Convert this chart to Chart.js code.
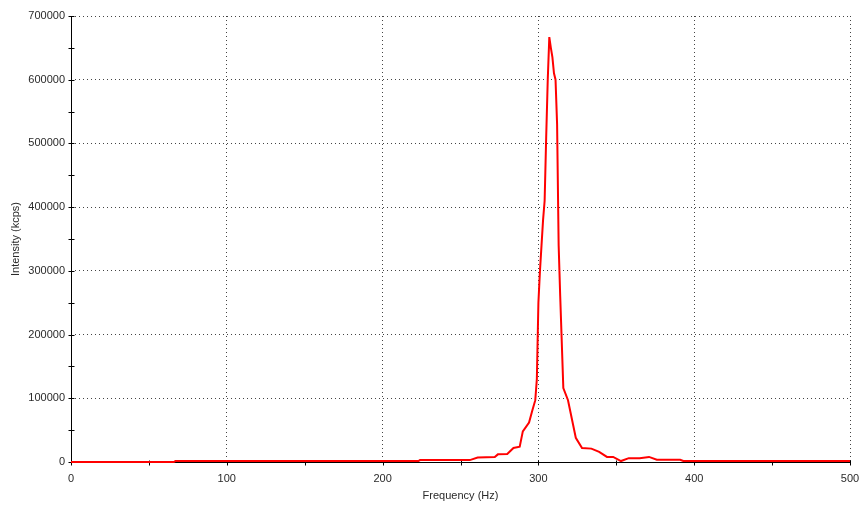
<!DOCTYPE html>
<html>
<head>
<meta charset="utf-8">
<script src="https://cdn.jsdelivr.net/npm/chart.js@4.4.0/dist/chart.umd.min.js"></script>
<style>
    html, body { margin: 0; padding: 0; background: #fff; }
    #wrap { width: 861px; height: 505px; position: relative; }
</style>
</head>
<body>
<div id="wrap"><canvas id="spectrum-chart"></canvas></div>
<script>
// spectrum values
const freqs = [0, 66, 67, 223, 224, 256, 261, 272, 274, 280,
    284, 288, 290, 294, 296, 298, 299, 300, 301, 302,
    303, 304, 305, 306, 307, 308, 309, 310, 311, 312,
    313, 314, 316, 319, 324, 328, 334, 339, 344, 348,
    353, 358, 365, 371, 376, 391, 393, 500];
const intensities = [0, 0, 1500, 1500, 3000, 3000, 7000, 8000, 12000, 12500,
    22000, 24000, 48000, 62000, 80000, 97000, 130000, 250000, 300000, 340000,
    380000, 410000, 510000, 600000, 667000, 650000, 635000, 610000, 600000, 530000,
    340000, 260000, 116000, 97000, 38000, 22000, 21000, 16000, 8000, 8000,
    1500, 6000, 6000, 8000, 3500, 3500, 1500, 1500];
const xRange = [0, 500];
const yRange = [0, 700000];
const xStep = 100, yStep = 100000;
const xLabel = "Frequency (Hz)";
const yLabel = "Intensity (kcps)";

const font = { family: "'Liberation Sans', Arial, sans-serif", size: 11 };
const textColor = "#2a2a2a";

// axis lines with small crossing ticks (major + minor at half steps), under the data line
const axisPlugin = {
    id: "axisTicks",
    beforeDatasetsDraw(chart) {
        const ctx = chart.ctx;
        const xs = chart.scales.x, ys = chart.scales.y;
        const area = chart.chartArea;
        ctx.save();
        ctx.strokeStyle = "#000";
        ctx.lineWidth = 1;
        ctx.beginPath();
        const ax = Math.round(area.left) + 0.5;
        const ay = Math.round(area.bottom) + 0.5;
        ctx.moveTo(ax, area.top);
        ctx.lineTo(ax, ay);
        ctx.lineTo(area.right, ay);
        for (let v = xRange[0]; v <= xRange[1]; v += xStep / 2) {
            let px = Math.round(xs.getPixelForValue(v)) + 0.5;
            ctx.moveTo(px, ay - 2);
            ctx.lineTo(px, ay + 3);
        }
        for (let v = yRange[0]; v <= yRange[1]; v += yStep / 2) {
            let py = Math.round(ys.getPixelForValue(v)) + 0.5;
            ctx.moveTo(ax - 3, py);
            ctx.lineTo(ax + 3, py);
        }
        ctx.stroke();
        ctx.restore();
    }
};

let points = freqs.map((f, i) => ({ x: f, y: intensities[i] }));
let gridColor = (c) => c.tick && c.tick.value === 0 ? "rgba(0,0,0,0)" : "#444";

new Chart(document.getElementById("spectrum-chart"), {
    type: "line",
    data: {
        datasets: [{
            data: points,
            borderColor: "#ff0000",
            borderWidth: 2,
            pointRadius: 0,
            tension: 0,
            fill: false,
            clip: 4
        }]
    },
    options: {
        responsive: true,
        maintainAspectRatio: false,
        animation: false,
        events: [],
        layout: { padding: { top: 16, right: 11, left: 0, bottom: 0 } },
        plugins: { legend: { display: false }, tooltip: { enabled: false } },
        scales: {
            x: {
                type: "linear",
                min: xRange[0],
                max: xRange[1],
                afterFit: (scale) => {
                    scale.height = 43;
                    scale.paddingLeft = 0;
                    scale.paddingRight = 0;
                },
                ticks: { stepSize: xStep, color: textColor, font: font, padding: 10, maxRotation: 0,
                    callback: (v) => String(v) },
                grid: { drawTicks: false, color: gridColor, lineWidth: 1 },
                border: { display: false, dash: [1, 3] },
                title: { display: true, text: xLabel, color: textColor, font: font, padding: { top: 0, bottom: 2 } }
            },
            y: {
                type: "linear",
                min: yRange[0],
                max: yRange[1],
                afterFit: (scale) => {
                    scale.width = 71;
                    scale.paddingTop = 0;
                    scale.paddingBottom = 0;
                },
                ticks: { stepSize: yStep, color: textColor, font: font, padding: 6,
                    callback: (v) => String(v) },
                grid: { drawTicks: false, color: gridColor, lineWidth: 1 },
                border: { display: false, dash: [1, 3] },
                title: { display: true, text: yLabel, color: textColor, font: font, padding: { top: 9, bottom: 0 } }
            }
        }
    },
    plugins: [axisPlugin]
});
</script>
</body>
</html>
